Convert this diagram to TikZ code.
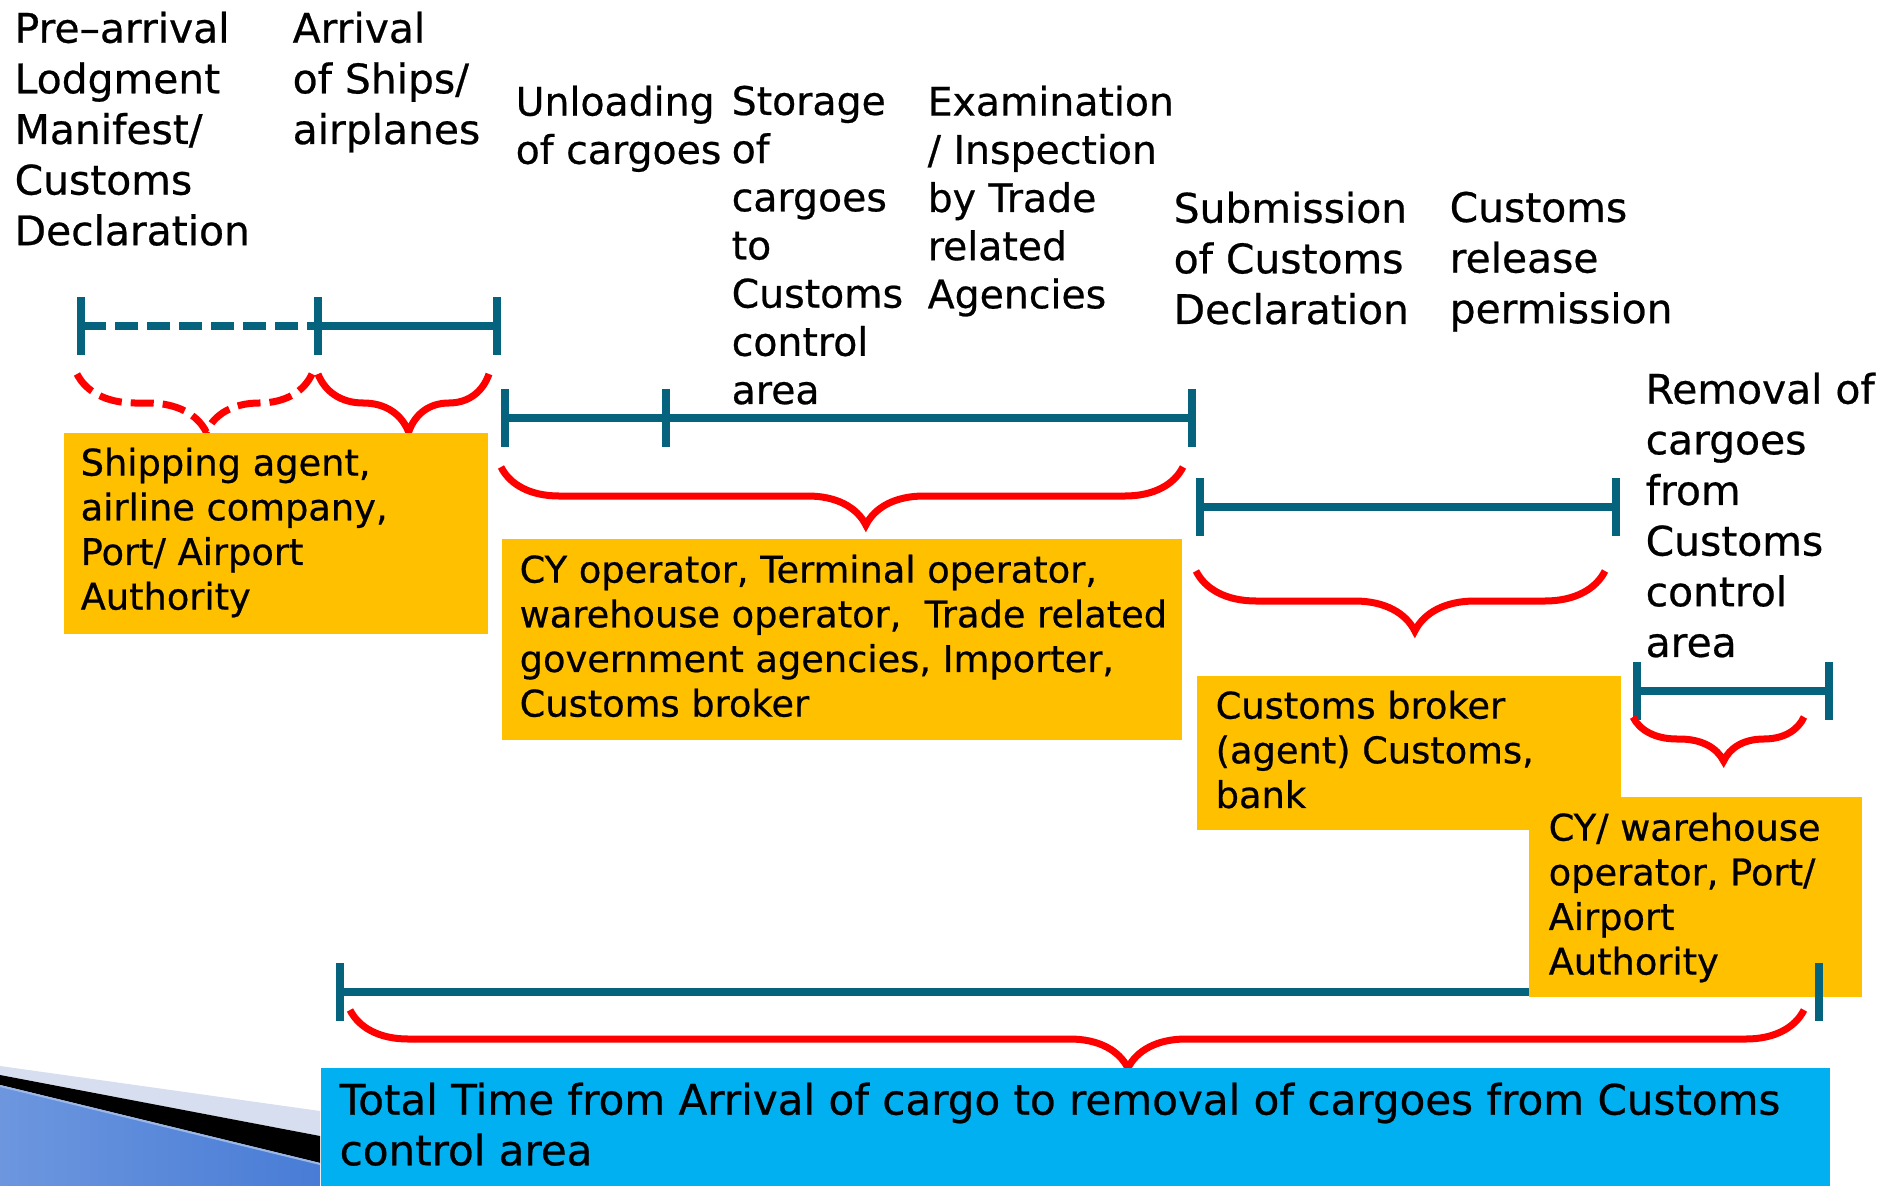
\documentclass[tikz,border=0pt]{standalone}
\usepackage{fontspec}
\setmainfont{DejaVu Sans}[FakeBold=0.6]
\usepackage{tikz}
\usepackage{xcolor}
\usetikzlibrary{positioning, arrows.meta, decorations.pathreplacing}

\definecolor{barteal}{RGB}{5,99,125}
\definecolor{boxorange}{RGB}{255,192,0}
\definecolor{boxblue}{RGB}{0,176,240}
\definecolor{bandlight}{RGB}{214,222,240}
\definecolor{bandblue}{RGB}{72,124,214}

\begin{document}
\begin{tikzpicture}[x=0.01cm, y=-0.01cm,
        timebar/.style={draw=barteal, line width=0.08cm, {Bar[width=0.58cm]}-{Bar[width=0.58cm]}},
        curly/.style={draw=red, line width=0.07cm, decorate, decoration={brace, mirror, amplitude=0.58cm, aspect=0.535}},
        steplabel/.style={anchor=north west, inner sep=0pt, align=left, font=\fontsize{11.6}{14.4}\selectfont},
        midlabel/.style={steplabel, font=\fontsize{11.2}{13.7}\selectfont},
        partybox/.style={anchor=north west, inner sep=0pt, fill=boxorange},
        partytext/.style={inner sep=0pt, align=left, font=\fontsize{10.45}{12.7}\selectfont}]
        \useasboundingbox (0,0) rectangle (1893,1186);

        \fill[bandlight] (0,1066) -- (320,1111) -- (320,1136) -- (0,1075) -- cycle;
        \fill[black] (0,1075) -- (320,1136) -- (320,1163) -- (0,1085) -- cycle;
        \shade[left color=bandblue!80!white, right color=bandblue] (0,1085) -- (320,1163) -- (320,1186) -- (0,1186) -- cycle;
        \draw[bandlight!60!bandblue, line width=0.02cm] (0,1086) -- (320,1164);

        \node[steplabel] (l1) at (14,11) {Pre–arrival\\Lodgment\\Manifest/\\Customs\\Declaration};
        \node[steplabel] (l2) at (292,11) {Arrival\\of Ships/\\airplanes};
        \node[midlabel] (l3) at (515,85) {Unloading\\of cargoes};
        \node[midlabel] (l4) at (731,85) {Storage\\of\\cargoes\\to\\Customs\\control\\area};
        \node[midlabel] (l5) at (927,85) {Examination\\/ Inspection\\by Trade\\related\\Agencies};
        \node[steplabel] (l6) at (1173,191) {Submission\\of Customs\\Declaration};
        \node[steplabel] (l7) at (1449,191) {Customs\\release\\permission};
        \node[steplabel] (l8) at (1645,372) {Removal of\\cargoes\\from\\Customs\\control\\area};

        \coordinate (a0) at (77,326);
        \coordinate (a1) at (322,326);
        \coordinate (a2) at (501,326);
        \coordinate (b0) at (501,418);
        \coordinate (b1) at (670,418);
        \coordinate (b2) at (1196,418);
        \coordinate (c0) at (1196,507);
        \coordinate (c1) at (1620,507);
        \coordinate (d0) at (1633,691);
        \coordinate (d1) at (1833,691);
        \coordinate (e0) at (336,992);
        \coordinate (e1) at (1819,992);
        \coordinate (e2) at (1819,963);
        \coordinate (e3) at (1819,1021);

        \draw[timebar, dash pattern=on 0.23cm off 0.09cm] (a0) -- (a1);
        \draw[timebar, -{Bar[width=0.58cm]}] (a1) -- (a2);
        \draw[timebar] (b0) -- (b1);
        \draw[timebar, -{Bar[width=0.58cm]}] (b1) -- (b2);
        \draw[timebar] (c0) -- (c1);
        \draw[timebar] (d0) -- (d1);
        \draw[timebar, {Bar[width=0.58cm]}-] (e0) -- (e1);

        \coordinate (r0) at (77,374);
        \coordinate (r1) at (312,374);
        \coordinate (r2) at (318,374);
        \coordinate (r3) at (489,374);
        \coordinate (r4) at (501,467);
        \coordinate (r5) at (1183,467);
        \coordinate (r6) at (1196,571);
        \coordinate (r7) at (1605,571);
        \coordinate (r8) at (1633,717);
        \coordinate (r9) at (1804,717);
        \coordinate (r10) at (350,1010);
        \coordinate (r11) at (1804,1010);

        \draw[curly, dash pattern=on 0.23cm off 0.09cm, decoration={aspect=0.55}] (r0) -- (r1);
        \draw[curly, decoration={aspect=0.53}] (r2) -- (r3);
        \draw[curly] (r4) -- (r5);
        \draw[curly, decoration={amplitude=0.6cm}] (r6) -- (r7);
        \draw[curly, decoration={amplitude=0.44cm, aspect=0.53}] (r8) -- (r9);
        \draw[curly] (r10) -- (r11);

        \node[partybox, minimum width=4.24cm, minimum height=2.01cm] (q1) at (63,432) {};
        \node[partytext, below right=0.15cm and 0.17cm of q1.north west] (t1) {Shipping agent,\\airline company,\\Port/ Airport\\Authority};
        \node[partybox, minimum width=6.8cm, minimum height=2.01cm] (q2) at (501,538) {};
        \node[partytext, below right=0.16cm and 0.18cm of q2.north west] (t2) {CY operator, Terminal operator,\\warehouse operator,\ \ Trade related\\government agencies, Importer,\\Customs broker};
        \node[partybox, minimum width=4.24cm, minimum height=1.54cm] (q3) at (1196,675) {};
        \node[partytext, below right=0.15cm and 0.19cm of q3.north west] (t3) {Customs broker\\(agent) Customs,\\bank};
        \node[partybox, minimum width=3.33cm, minimum height=2.0cm] (q4) at (1528,796) {};
        \node[partytext, below right=0.16cm and 0.2cm of q4.north west] (t4) {CY/ warehouse\\operator, Port/\\Airport\\Authority};
        \draw[barteal, line width=0.08cm] (e2) -- (e3);

        \node[partybox, fill=boxblue, minimum width=15.08cm, minimum height=1.19cm] (q5) at (320,1067) {};
        \node[partytext, font=\fontsize{11.95}{14.4}\selectfont, below right=0.15cm and 0.19cm of q5.north west] (t5) {Total Time from Arrival of cargo to removal of cargoes from Customs\\control area};
    \end{tikzpicture}
\end{document}
